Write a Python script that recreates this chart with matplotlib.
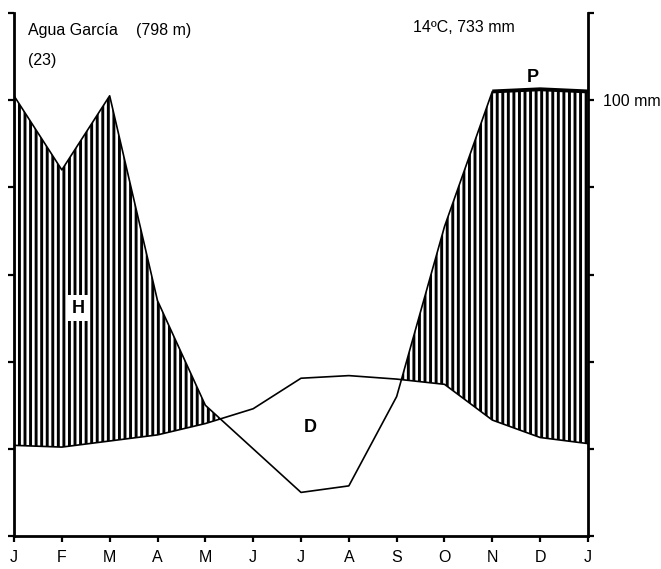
import matplotlib
matplotlib.use("Agg")
import matplotlib.pyplot as plt
import numpy as np

plt.rcParams['font.family'] = ['Liberation Sans', 'DejaVu Sans']
plt.rcParams['hatch.linewidth'] = 2.1

# Walter-Lieth diagram, Agua García (23)
months = ["J", "F", "M", "A", "M", "J", "J", "A", "S", "O", "N", "D", "J"]
temp_c = np.array([10.4, 10.2, 10.9, 11.6, 12.9, 14.6, 18.1, 18.4, 18.0, 17.4, 13.3, 11.3, 10.6])  # ºC
prec_mm = np.array([101, 84, 101, 54, 30, 20, 10, 11.5, 32, 71, 102, 102.5, 102])  # mm
right_ticks = [0, 20, 40, 60, 80, 100, 120]
right_labels = ["", "", "", "", "", "100 mm", ""]

x = np.arange(len(months))
temp_scaled = temp_c * 2  # 10 ºC = 20 mm

fig = plt.figure(figsize=(6.61, 5.69), dpi=100)
ax = fig.add_axes([14 / 661, 33 / 569, 574 / 661, 523 / 569])

# humid period (P > T), vertical stripes
ax.fill_between(x, temp_scaled, prec_mm, where=prec_mm >= temp_scaled, interpolate=True,
                facecolor="none", edgecolor="black", hatch="|||", linewidth=0)

ax.plot(x, prec_mm, color="black", lw=1.2)
ax.plot(x[10:], prec_mm[10:], color="black", lw=2.8, solid_capstyle="butt")
ax.plot(x, temp_scaled, color="black", lw=1.2)

ax.set_xlim(0, 12)
ax.set_ylim(0, 120)

ax.set_xticks(x)
ax.set_xticklabels(months, fontsize=11.5)
ax.set_yticks(right_ticks)
ax.set_yticklabels(right_labels, fontsize=11.5)
ax.tick_params(axis="y", direction="out", length=4, width=1.6,
               left=True, right=True, labelleft=False, labelright=True, pad=7)
ax.tick_params(axis="x", direction="out", length=4, width=1.6, pad=6)

ax.spines["top"].set_visible(False)
for side in ["left", "right", "bottom"]:
    ax.spines[side].set_linewidth(2.0)

# labels
ax.text(1.34, 52.3, "H", fontsize=13, fontweight="bold", ha="center", va="center",
        bbox=dict(facecolor="white", edgecolor="none", pad=3))
ax.text(6.19, 24.8, "D", fontsize=13, fontweight="bold", ha="center", va="center")
ax.text(10.85, 105.3, "P", fontsize=13, fontweight="bold", ha="center", va="center")

fig.text(28 / 661, 1 - 30 / 569, "Agua García", fontsize=11.5, va="center")
fig.text(136 / 661, 1 - 30 / 569, "(798 m)", fontsize=11.5, va="center")
fig.text(28 / 661, 1 - 61 / 569, "(23)", fontsize=11.5, va="center")
fig.text(413 / 661, 1 - 28 / 569, "14ºC, 733 mm", fontsize=11.5, va="center")

fig.savefig("out.png", dpi=100)
